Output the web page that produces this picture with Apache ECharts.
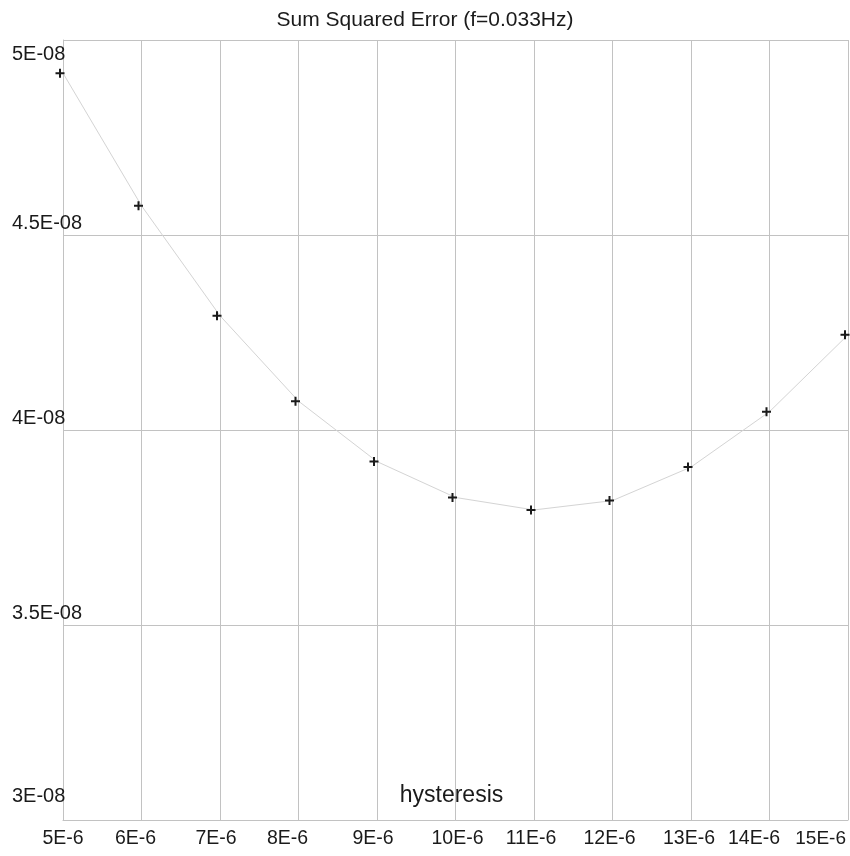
<!DOCTYPE html>
<html>
<head>
<meta charset="utf-8">
<script src="https://cdn.jsdelivr.net/npm/echarts@6/dist/echarts.min.js"></script>
<style>
html,body{margin:0;padding:0;background:#fff;}
#chart{width:850px;height:856px;}
</style>
</head>
<body>
<div id="chart"></div>
<script>
// ---- data ----
var chartTitle = 'Sum Squared Error (f=0.033Hz)';
var xAxisName = 'hysteresis';
// hysteresis values, in units of 1E-6
var hysteresis = [5, 6, 7, 8, 9, 10, 11, 12, 13, 14, 15];
// sum squared error, in units of 1E-8
var sse = [4.915, 4.575, 4.293, 4.074, 3.919, 3.827, 3.795, 3.819, 3.905, 4.047, 4.244];
var xTickValues = [5, 6, 7, 8, 9, 10, 11, 12, 13, 14, 15];
var xTickLabels = ['5E-6','6E-6','7E-6','8E-6','9E-6','10E-6','11E-6','12E-6','13E-6','14E-6','15E-6'];
var yTickValues = [3, 3.5, 4, 4.5, 5];
var yTickLabels = ['3E-08','3.5E-08','4E-08','4.5E-08','5E-08'];

// ---- styling (label nudges as in the reference) ----
var xLabelShift = [0, -6, -4, -11, -4, 2, -3, -3, -2, 0, 0];
var FONT = '"Liberation Sans", Arial, sans-serif';
var textColor = '#1a1a1a';
var gridColor = '#c2c2c2';

var xRich = {};
xLabelShift.forEach(function (s, i) {
  xRich['x' + i] = {
    fontFamily: FONT, fontSize: 19.5, color: textColor, lineHeight: 20,
    padding: s < 0 ? [0, -2 * s, 0, 0] : [0, 0, 0, 2 * s]
  };
});
// 14E-6 sits left of its tick; narrow box, text right-aligned inside it
xRich['x9'] = {fontFamily: FONT, fontSize: 19.5, color: textColor, lineHeight: 20, width: 21, align: 'right'};
// last label is right-aligned to the plot edge
xRich['x10'] = {fontFamily: FONT, fontSize: 19, color: textColor, lineHeight: 20, padding: [0, 2, 0, 0]};

var yBase = {fontFamily: FONT, fontSize: 20, color: textColor, lineHeight: 20};
var yRich = {
  n: Object.assign({padding: [0, 0, 24, 0]}, yBase),
  lo: Object.assign({padding: [0, 0, 48, 0]}, yBase),
  hi: Object.assign({padding: [28, 0, 0, 0]}, yBase)
};

var points = hysteresis.map(function (x, i) { return [x, sse[i]]; });

var chart = echarts.init(document.getElementById('chart'), null, {renderer: 'canvas'});
chart.setOption({
  backgroundColor: '#ffffff',
  animation: false,
  title: {
    text: chartTitle,
    left: 'center',
    top: 10,
    padding: 0,
    textStyle: {fontFamily: FONT, fontSize: 21, fontWeight: 'normal', color: textColor, lineHeight: 21}
  },
  grid: {left: 63, right: 2, top: 40, bottom: 36, containLabel: false, outerBoundsMode: 'none'},
  xAxis: {
    type: 'value',
    min: xTickValues[0],
    max: xTickValues[xTickValues.length - 1],
    interval: 1,
    name: xAxisName,
    nameLocation: 'middle',
    nameGap: -13,
    nameTextStyle: {fontFamily: FONT, fontSize: 23, color: textColor, lineHeight: 23, verticalAlign: 'bottom', padding: [0, 8, 0, 0]},
    axisLine: {show: true, lineStyle: {color: gridColor, width: 1}},
    axisTick: {show: false},
    splitLine: {show: true, lineStyle: {color: gridColor, width: 1}},
    axisLabel: {
      margin: 9,
      showMinLabel: true,
      showMaxLabel: true,
      alignMaxLabel: 'right',
      fontFamily: FONT, fontSize: 19.5, color: textColor, lineHeight: 20,
      formatter: function (v) {
        var i = xTickValues.indexOf(Math.round(v * 1000) / 1000);
        return i < 0 ? '' : '{x' + i + '|' + xTickLabels[i] + '}';
      },
      rich: xRich
    }
  },
  yAxis: {
    type: 'value',
    min: yTickValues[0],
    max: yTickValues[yTickValues.length - 1],
    interval: 0.5,
    axisLine: {show: true, lineStyle: {color: gridColor, width: 1}},
    axisTick: {show: false},
    splitLine: {show: true, lineStyle: {color: gridColor, width: 1}},
    axisLabel: {
      margin: 51,
      align: 'left',
      verticalAlign: 'middle',
      showMinLabel: true,
      showMaxLabel: true,
      fontFamily: FONT, fontSize: 20, color: textColor, lineHeight: 20,
      formatter: function (v) {
        var i = yTickValues.indexOf(Math.round(v * 1000) / 1000);
        if (i < 0) return '';
        var key = i === 0 ? 'lo' : (i === yTickValues.length - 1 ? 'hi' : 'n');
        return '{' + key + '|' + yTickLabels[i] + '}';
      },
      rich: yRich
    }
  },
  series: [{
    type: 'line',
    data: points,
    smooth: false,
    symbol: 'path://M3.5,0H5.5V9H3.5ZM0,3.5H9V5.5H0Z',
    symbolSize: 9,
    symbolOffset: [-3, 0],
    showAllSymbol: true,
    itemStyle: {color: '#1a1a1a'},
    lineStyle: {color: '#d4d4d4', width: 1},
    emphasis: {disabled: true},
    silent: true,
    z: 3
  }]
});
</script>
</body>
</html>
